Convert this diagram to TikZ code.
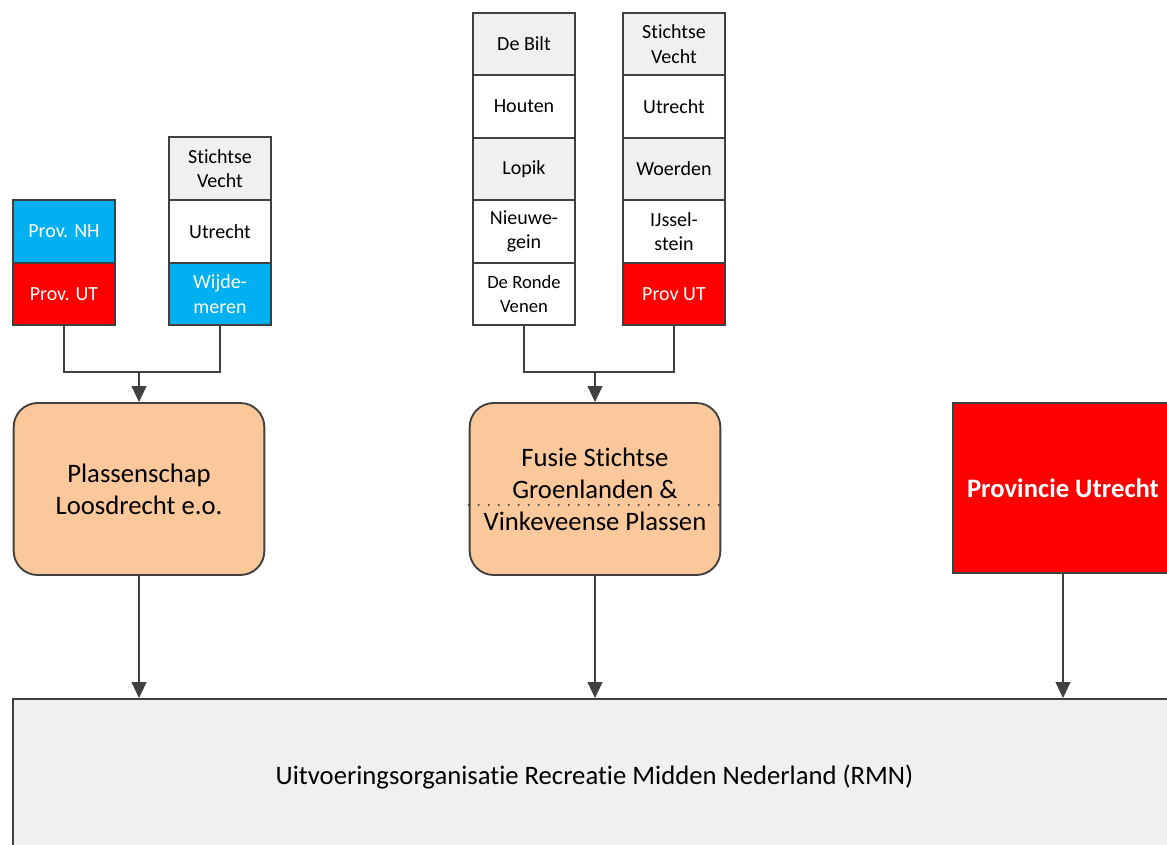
\documentclass[tikz,border=0pt]{standalone}
\usepackage{fontspec}
\setmainfont{Carlito}[Ligatures=NoCommon]
\usetikzlibrary{arrows.meta}
\definecolor{rmngray}{HTML}{F0F0F0}
\definecolor{nhblue}{HTML}{00B0F0}
\definecolor{utred}{HTML}{FF0000}
\definecolor{orgpeach}{HTML}{FAC89A}
\definecolor{linegray}{HTML}{404040}
\tikzset{
  gem/.style={draw=linegray,line width=1.4pt,minimum width=76.5pt,minimum height=46.8pt,
    align=center,inner sep=1pt,font=\fontsize{15}{18.5}\selectfont},
  grijs/.style={gem,fill=rmngray},
  wit/.style={gem,fill=white},
  blauw/.style={gem,fill=nhblue,text=white},
  rood/.style={gem,fill=utred,text=white},
  org/.style={draw=linegray,line width=1.4pt,rounded corners=18pt,fill=orgpeach,
    minimum width=188pt,minimum height=129pt,align=center,font=\fontsize{20}{24}\selectfont},
  lijn/.style={draw=linegray,line width=1.4pt},
  pijl/.style={lijn,-{Triangle[length=12pt,width=11pt]}}
}
\begin{document}
\begin{tikzpicture}[x=0.75pt,y=-0.75pt]
\useasboundingbox (0,0) rectangle (1167,845);
%\draw[step=50,gray,very thin] (0,0) grid (1167,845);
% organisaties
\node[org] (plas) at (139,489) {Plassenschap\\Loosdrecht e.o.};
\node[org] (fus) at (595,489) {Fusie Stichtse\\Groenlanden \&\\Vinkeveense Plassen};
\node[draw=linegray,line width=1.4pt,fill=utred,text=white,minimum width=165pt,minimum height=127.5pt,
  font=\fontsize{20}{24}\selectfont\bfseries] (prov) at (1063,488) {Provincie Utrecht};
\node[draw=linegray,line width=1.4pt,fill=rmngray,minimum width=872pt,minimum height=117pt,
  font=\fontsize{20}{24}\selectfont] (rmn) at (594.5,777) {Uitvoeringsorganisatie Recreatie Midden Nederland (RMN)};
\draw[linegray,line width=1.6pt,dash pattern=on 0pt off 7.5pt,line cap=round]
  (fus.west |- 0,505) -- (fus.east |- 0,505);
% deelnemers Plassenschap
\node[blauw] (nh) at (64,231.5) {Prov. NH};
\node[rood] (ut1) at (64,294) {Prov. UT};
\node[grijs] (sv1) at (220,168.5) {Stichtse\\Vecht};
\node[wit] (utr1) at (220,231.5) {Utrecht};
\node[blauw] (wm) at (220,294) {Wijde-\\meren};
% deelnemers fusie
\node[grijs] (bilt) at (524,44) {De Bilt};
\node[wit] (hout) at (524,106.5) {Houten};
\node[grijs] (lop) at (524,169) {Lopik};
\node[wit] (nwg) at (524,231.5) {Nieuwe-\\gein};
\node[wit,font=\fontsize{14}{18}\selectfont] (drv) at (524,294) {De Ronde\\Venen};
\node[grijs] (sv2) at (674,44) {Stichtse\\Vecht};
\node[wit] (utr2) at (674,106.5) {Utrecht};
\node[grijs] (woe) at (674,169) {Woerden};
\node[wit] (ijs) at (674,231.5) {IJssel-\\stein};
\node[rood] (ut2) at (674,294) {Prov UT};
% verbindingen
\coordinate (j1) at (plas.north |- 0,372);
\coordinate (j2) at (fus.north |- 0,372);
\draw[lijn] (ut1.south) |- (j1) -| (wm.south);
\draw[pijl] (j1) -- (plas.north);
\draw[lijn] (drv.south) |- (j2) -| (ut2.south);
\draw[pijl] (j2) -- (fus.north);
\draw[pijl] (plas.south) -- (plas.south |- rmn.north);
\draw[pijl] (fus.south) -- (fus.south |- rmn.north);
\draw[pijl] (prov.south) -- (prov.south |- rmn.north);
\end{tikzpicture}
\end{document}
